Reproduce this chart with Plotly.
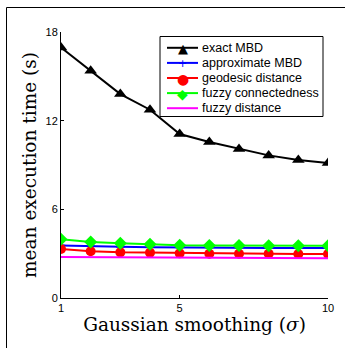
import plotly.graph_objects as go

sigma = [1, 2, 3, 4, 5, 6, 7, 8, 9, 10]
exact_mbd = [16.95, 15.37, 13.80, 12.74, 11.10, 10.56, 10.08, 9.65, 9.34, 9.14]
approx_mbd = [3.56, 3.50, 3.46, 3.44, 3.42, 3.41, 3.40, 3.39, 3.39, 3.38]
geodesic = [3.32, 3.16, 3.09, 3.07, 3.02, 3.00, 3.00, 3.00, 2.98, 2.98]
fuzzy_conn = [3.97, 3.79, 3.70, 3.63, 3.57, 3.56, 3.55, 3.54, 3.54, 3.54]
fuzzy_dist = [2.77, 2.76, 2.75, 2.75, 2.74, 2.73, 2.72, 2.71, 2.70, 2.69]

series_names = ["exact MBD", "approximate MBD", "geodesic distance",
                "fuzzy connectedness", "fuzzy distance"]
x_ticks = [1, 5, 10]
y_ticks = [0, 6, 12, 18]

colors = ["black", "#0000ff", "#ff0000", "#00ff00", "#ff00ff"]
symbols = ["triangle-up", "cross-thin", "circle", "diamond", None]
sizes = [11, 6, 10, 10, 0]
legend_glyphs = ["▲", "+", "●", "◆", ""]
glyph_sizes = [13, 11, 14, 14, 10]

W, H = 347, 348
L, R, T, B = 61, 19, 32, 50
pw, ph = W - L - R, H - T - B


def px(x):
    return (x - L) / pw


def py(y):
    return (H - B - y) / ph


fig = go.Figure()
for name, vals, col, sym, sz in zip(series_names,
                                    [exact_mbd, approx_mbd, geodesic, fuzzy_conn, fuzzy_dist],
                                    colors, symbols, sizes):
    if sym is None:
        fig.add_trace(go.Scatter(x=sigma, y=vals, name=name, mode="lines",
                                 line=dict(color=col, width=2), showlegend=False))
    else:
        mk = dict(symbol=sym, size=sz, color=col)
        if sym == "cross-thin":
            mk["line"] = dict(color=col, width=1.5)
        fig.add_trace(go.Scatter(x=sigma, y=vals, name=name, mode="lines+markers",
                                 line=dict(color=col, width=2), marker=mk, showlegend=False))

shapes = [
    # outer frame (partial, as in the cropped figure)
    dict(type="line", xref="paper", yref="paper", x0=px(6.5), x1=px(345), y0=py(7.5), y1=py(7.5),
         line=dict(color="black", width=1)),
    dict(type="line", xref="paper", yref="paper", x0=px(6.5), x1=px(6.5), y0=py(7.5), y1=py(352),
         line=dict(color="black", width=1)),
    # legend box
    dict(type="rect", xref="paper", yref="paper", x0=px(160), x1=px(323), y0=py(36.5), y1=py(116.5),
         line=dict(color="black", width=1), fillcolor="white", layer="above"),
]
annotations = []
for i, (name, col, g, gs) in enumerate(zip(series_names, colors, legend_glyphs, glyph_sizes)):
    yy = 47.8 + 15.1 * i
    shapes.append(dict(type="line", xref="paper", yref="paper", x0=px(167), x1=px(198),
                       y0=py(yy), y1=py(yy), line=dict(color=col, width=2), layer="above"))
    if g:
        annotations.append(dict(xref="paper", yref="paper", x=px(182.5), y=py(yy + 0.5), text=g,
                                showarrow=False, xanchor="center", yanchor="middle",
                                font=dict(family="DejaVu Sans", size=gs, color=col)))
    annotations.append(dict(xref="paper", yref="paper", x=px(200), y=py(yy), text=name,
                            showarrow=False, xanchor="left", yanchor="middle",
                            font=dict(family="Liberation Sans, Arial", size=12.5, color="black")))

axis_font = dict(family="Liberation Sans, Arial", size=11, color="black")
fig.update_layout(
    width=W, height=H,
    margin=dict(l=L, r=R, t=T, b=B),
    paper_bgcolor="white", plot_bgcolor="white",
    showlegend=False,
    xaxis=dict(range=[1, 10], tickvals=x_ticks, ticktext=[str(v) for v in x_ticks],
               showgrid=False, zeroline=False, showline=True, linecolor="black", linewidth=1,
               ticks="inside", ticklen=3, tickcolor="black", tickfont=axis_font, automargin=False,
               title=dict(text="Gaussian smoothing (<i>σ</i>)", standoff=4,
                          font=dict(family="DejaVu Serif", size=18.5, color="black"))),
    yaxis=dict(range=[0, 18], tickvals=y_ticks, ticktext=[str(v) for v in y_ticks],
               showgrid=False, zeroline=False, showline=True, linecolor="black", linewidth=1,
               ticks="inside", ticklen=3, tickcolor="black", tickfont=axis_font, automargin=False,
               title=dict(text="mean execution time (s)", standoff=4,
                          font=dict(family="DejaVu Serif", size=18.5, color="black"))),
    shapes=shapes,
    annotations=annotations,
)

fig.write_html("out.html", config={"displayModeBar": False},
               post_script="document.body.style.margin='0';document.body.style.overflow='hidden';")
